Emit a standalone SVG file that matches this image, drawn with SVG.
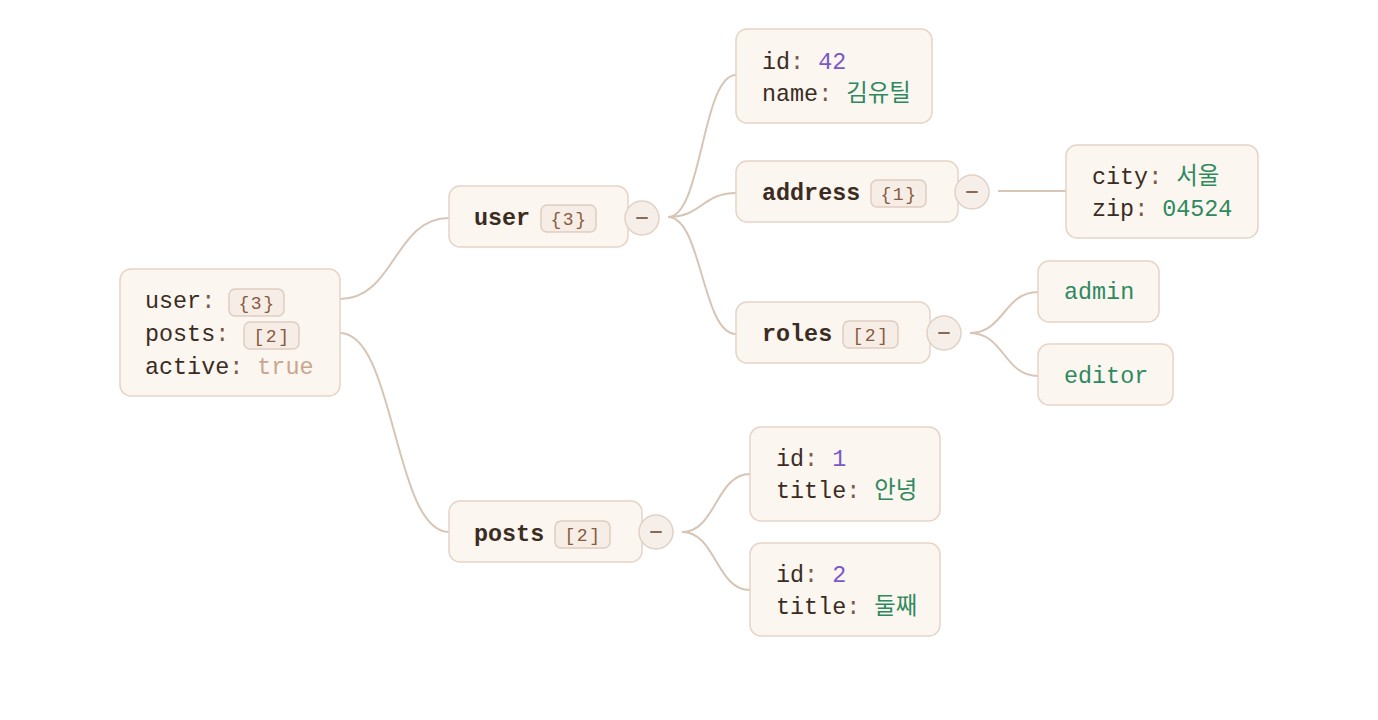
<svg xmlns="http://www.w3.org/2000/svg" width="1378" height="720" viewBox="0 0 1378 720">
<style>
.bg{fill:#ffffff}
.node{fill:#fcf6f1;stroke:#e6d4c7;stroke-width:1.5}
.badge{fill:#f5ede6;stroke:#dfcdc0;stroke-width:1.5}
.tog{fill:#f6eee8;stroke:#e2d1c4;stroke-width:1.5}
.dash{stroke:#8a6a55;stroke-width:2;stroke-linecap:round}
.conn{fill:none;stroke:#d7c5b6;stroke-width:2}
text{font-family:"Liberation Mono","Noto Sans CJK KR",monospace;font-size:23.4px}
.k{fill:#3b2c22}
.c{fill:#7a5a45}
.b{font-weight:bold;fill:#3b2c22}
.num{fill:#7a58c8}
.str{fill:#2e8a5e}
.bool{fill:#c8a68d}
.bt{font-size:18px;fill:#8a5a3c;text-anchor:middle;letter-spacing:1.5px}
</style>
<rect class="bg" x="0" y="0" width="1378" height="720"/>
<g id="connectors">
<path class="conn" d="M340,299 C395,299 394,218 449,218"/>
<path class="conn" d="M340,333 C395,333 394,532 449,532"/>
<path class="conn" d="M668,217 C702,217 702,75 736,75"/>
<path class="conn" d="M668,217 C702,217 702,193 736,193"/>
<path class="conn" d="M668,217 C702,217 702,334 736,334"/>
<path class="conn" d="M998,191 L1066,191"/>
<path class="conn" d="M970,333 C1004,333 1004,292 1038,292"/>
<path class="conn" d="M970,333 C1004,333 1004,376 1038,376"/>
<path class="conn" d="M682,532 C716,532 716,474 750,474"/>
<path class="conn" d="M682,532 C716,532 716,590 750,590"/>
</g>
<g id="root">
<rect class="node" x="120" y="269" width="220" height="127" rx="11"/>
<text x="145" y="308"><tspan class="k">user</tspan><tspan class="c">:</tspan></text>
<rect class="badge" x="229" y="289" width="55" height="27" rx="6"/>
<text class="bt" x="257" y="308.5">{3}</text>
<text x="145" y="341"><tspan class="k">posts</tspan><tspan class="c">:</tspan></text>
<rect class="badge" x="244" y="322" width="55" height="27" rx="6"/>
<text class="bt" x="272" y="341.5">[2]</text>
<text x="145" y="374"><tspan class="k">active</tspan><tspan class="c">:</tspan> <tspan class="bool">true</tspan></text>
</g>
<g id="user">
<rect class="node" x="449" y="186" width="179" height="61" rx="11"/>
<text class="b" x="474" y="225">user</text>
<rect class="badge" x="541" y="205" width="55" height="27" rx="6"/>
<text class="bt" x="569" y="224.5">{3}</text>
<circle class="tog" cx="642" cy="218" r="17"/>
<line class="dash" x1="637" y1="218" x2="647" y2="218"/>
</g>
<g id="user-fields">
<rect class="node" x="736" y="29" width="196" height="94" rx="11"/>
<text x="762" y="69"><tspan class="k">id</tspan><tspan class="c">:</tspan> <tspan class="num">42</tspan></text>
<text x="762" y="101"><tspan class="k">name</tspan><tspan class="c">:</tspan> <tspan class="str">김유틸</tspan></text>
</g>
<g id="address">
<rect class="node" x="736" y="161" width="222" height="61" rx="11"/>
<text class="b" x="762" y="200">address</text>
<rect class="badge" x="871" y="180" width="55" height="27" rx="6"/>
<text class="bt" x="899" y="199.5">{1}</text>
<circle class="tog" cx="972" cy="192" r="17"/>
<line class="dash" x1="967" y1="192" x2="977" y2="192"/>
</g>
<g id="address-fields">
<rect class="node" x="1066" y="145" width="192" height="93" rx="11"/>
<text x="1092" y="184"><tspan class="k">city</tspan><tspan class="c">:</tspan> <tspan class="str">서울</tspan></text>
<text x="1092" y="216"><tspan class="k">zip</tspan><tspan class="c">:</tspan> <tspan class="str">04524</tspan></text>
</g>
<g id="roles">
<rect class="node" x="736" y="302" width="194" height="61" rx="11"/>
<text class="b" x="762" y="341">roles</text>
<rect class="badge" x="843" y="321" width="55" height="27" rx="6"/>
<text class="bt" x="871" y="340.5">[2]</text>
<circle class="tog" cx="944" cy="333" r="17"/>
<line class="dash" x1="939" y1="333" x2="949" y2="333"/>
</g>
<g id="role-admin">
<rect class="node" x="1038" y="261" width="121" height="61" rx="11"/>
<text class="str" x="1064" y="299">admin</text>
</g>
<g id="role-editor">
<rect class="node" x="1038" y="344" width="135" height="61" rx="11"/>
<text class="str" x="1064" y="383">editor</text>
</g>
<g id="posts">
<rect class="node" x="449" y="501" width="193" height="61" rx="11"/>
<text class="b" x="474" y="541">posts</text>
<rect class="badge" x="555" y="521" width="55" height="27" rx="6"/>
<text class="bt" x="583" y="540.5">[2]</text>
<circle class="tog" cx="656" cy="532" r="17"/>
<line class="dash" x1="651" y1="532" x2="661" y2="532"/>
</g>
<g id="post-1">
<rect class="node" x="750" y="427" width="190" height="94" rx="11"/>
<text x="776" y="466"><tspan class="k">id</tspan><tspan class="c">:</tspan> <tspan class="num">1</tspan></text>
<text x="776" y="498"><tspan class="k">title</tspan><tspan class="c">:</tspan> <tspan class="str">안녕</tspan></text>
</g>
<g id="post-2">
<rect class="node" x="750" y="543" width="190" height="93" rx="11"/>
<text x="776" y="582"><tspan class="k">id</tspan><tspan class="c">:</tspan> <tspan class="num">2</tspan></text>
<text x="776" y="614"><tspan class="k">title</tspan><tspan class="c">:</tspan> <tspan class="str">둘째</tspan></text>
</g>
</svg>
